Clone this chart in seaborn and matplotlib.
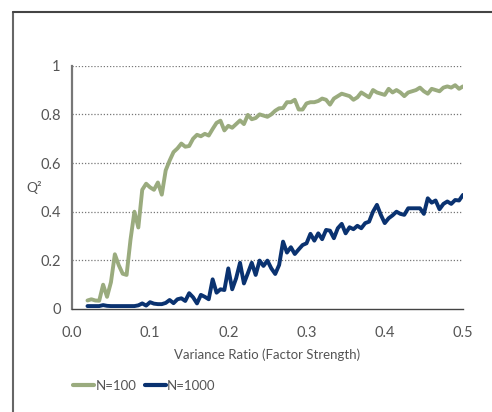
import numpy as np
import pandas as pd
import matplotlib
matplotlib.use("Agg")
import matplotlib.pyplot as plt
import seaborn as sns
from matplotlib.lines import Line2D

# variance ratio steps
x_vals = [round(0.02 + 0.005 * i, 3) for i in range(97)]

# N=100 curve
q2_n100 = [0.035, 0.04, 0.035, 0.034, 0.10, 0.05, 0.11, 0.225, 0.18, 0.145,
           0.14, 0.285, 0.40, 0.335, 0.49, 0.515, 0.50, 0.49, 0.52, 0.47,
           0.57, 0.61, 0.645, 0.66, 0.68, 0.667, 0.67, 0.70, 0.716, 0.71,
           0.72, 0.713, 0.74, 0.765, 0.774, 0.734, 0.753, 0.745, 0.76, 0.775,
           0.76, 0.798, 0.78, 0.785, 0.80, 0.795, 0.79, 0.80, 0.815, 0.825,
           0.826, 0.85, 0.85, 0.86, 0.82, 0.82, 0.845, 0.85, 0.85, 0.855,
           0.865, 0.86, 0.84, 0.865, 0.875, 0.885, 0.88, 0.875, 0.86, 0.87,
           0.89, 0.88, 0.87, 0.90, 0.89, 0.885, 0.88, 0.905, 0.89, 0.90,
           0.89, 0.875, 0.89, 0.895, 0.90, 0.91, 0.895, 0.885, 0.905, 0.90,
           0.895, 0.91, 0.915, 0.91, 0.92, 0.905, 0.915]

# N=1000 curve
q2_n1000 = [0.012, 0.012, 0.012, 0.012, 0.016, 0.013, 0.012, 0.012, 0.012, 0.012,
            0.012, 0.012, 0.012, 0.015, 0.023, 0.014, 0.028, 0.022, 0.02, 0.02,
            0.025, 0.037, 0.024, 0.04, 0.044, 0.033, 0.065, 0.048, 0.023, 0.058,
            0.05, 0.04, 0.122, 0.067, 0.081, 0.078, 0.167, 0.081, 0.126, 0.19,
            0.105, 0.147, 0.19, 0.14, 0.199, 0.177, 0.199, 0.167, 0.144, 0.181,
            0.277, 0.232, 0.254, 0.226, 0.245, 0.263, 0.27, 0.309, 0.281, 0.311,
            0.287, 0.325, 0.322, 0.291, 0.332, 0.35, 0.311, 0.336, 0.328, 0.342,
            0.332, 0.353, 0.359, 0.40, 0.428, 0.387, 0.353, 0.373, 0.385, 0.40,
            0.391, 0.387, 0.414, 0.414, 0.414, 0.414, 0.391, 0.455, 0.437, 0.446,
            0.41, 0.432, 0.442, 0.432, 0.448, 0.446, 0.469]

df = pd.DataFrame({
    "x": x_vals * 2,
    "q2": q2_n100 + q2_n1000,
    "series": ["N=100"] * len(x_vals) + ["N=1000"] * len(x_vals),
})

sns.set_style("white")
plt.rcParams['font.family'] = ['Lato', 'DejaVu Sans']
txt = "#555555"

fig = plt.figure(figsize=(4.92, 4.12), dpi=100)
ax = fig.add_axes([0.146, 0.25, 0.795, 0.5905])

pal = {"N=100": "#9aab7e", "N=1000": "#0a3270"}
sns.lineplot(data=df, x="x", y="q2", hue="series", palette=pal, linewidth=2.8,
             ax=ax, legend=False)

ax.set_xlim(0, 0.5)
ax.set_ylim(0, 1)
ax.set_xticks([0, 0.1, 0.2, 0.3, 0.4, 0.5])
ax.set_xticklabels(["0.0", "0.1", "0.2", "0.3", "0.4", "0.5"])
ax.set_yticks([0, 0.2, 0.4, 0.6, 0.8, 1.0])
ax.set_yticklabels(["0", "0.2", "0.4", "0.6", "0.8", "1"])
ax.tick_params(axis="x", direction="in", length=5, width=1, color="#444444",
               labelsize=10.5, labelcolor=txt, pad=12)
ax.tick_params(axis="y", length=0, labelsize=10.5, labelcolor=txt, pad=8)

for gy in [0.2, 0.4, 0.6, 0.8, 1.0]:
    ax.axhline(gy, color="#777777", linestyle=(0, (1, 1.5)), linewidth=0.9, zorder=0)

for s in ["top", "right"]:
    ax.spines[s].set_visible(False)
ax.spines["left"].set_color("#777777")
ax.spines["left"].set_linewidth(1.6)
ax.spines["bottom"].set_color("#444444")
ax.spines["bottom"].set_linewidth(1.0)

ax.set_xlabel("Variance Ratio (Factor Strength)", fontsize=9.5, color=txt, labelpad=6)
ax.set_ylabel("Q²", fontsize=10, color=txt, rotation=0, labelpad=4, va="center")

handles = [Line2D([], [], color=pal[k], linewidth=3) for k in pal]
fig.legend(handles, list(pal.keys()), loc="center left",
           bbox_to_anchor=(0.125, 0.063), frameon=False, ncol=2,
           handlelength=1.6, handletextpad=0.1, columnspacing=0.6,
           fontsize=9.5, labelcolor=txt)

# outer frame (cut off at the right/bottom)
fig.add_artist(Line2D([0.027, 0.027], [0.0, 0.971], color="#666666", linewidth=1.5,
                      transform=fig.transFigure))
fig.add_artist(Line2D([0.027, 1.0], [0.971, 0.971], color="#444444", linewidth=1.5,
                      transform=fig.transFigure))

fig.savefig("out.png", dpi=100)
